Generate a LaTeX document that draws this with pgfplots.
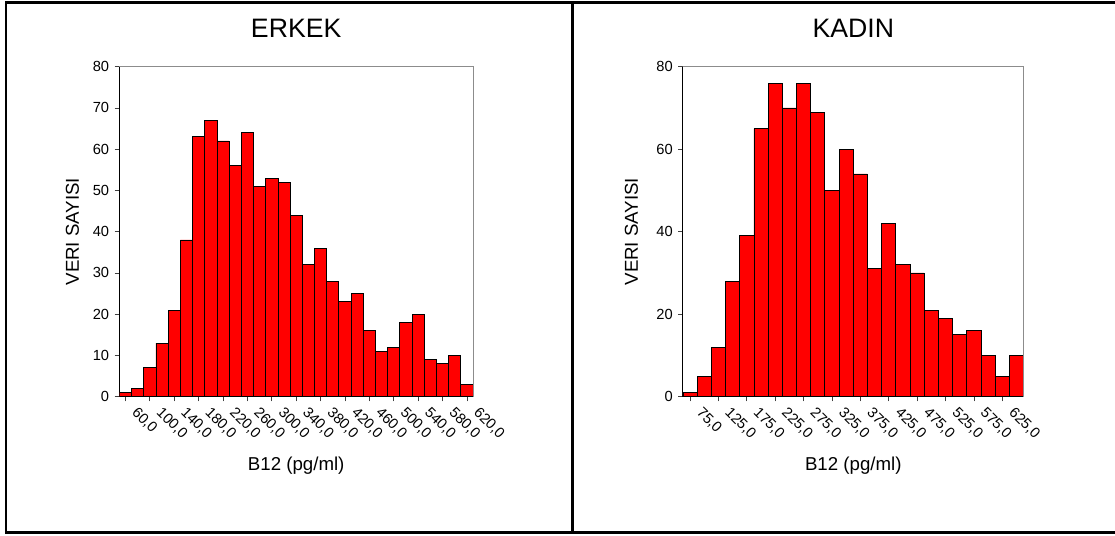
\documentclass[border=0pt]{standalone}
\usepackage{fontspec}
\setmainfont{Liberation Sans}
\usepackage{pgfplots}
\pgfplotsset{compat=1.18}
\definecolor{barred}{RGB}{255,0,0}
\definecolor{framegray}{RGB}{140,140,140}
\begin{document}
\begin{tikzpicture}[x=0.75pt,y=0.75pt]
\useasboundingbox (0,0) rectangle (1115,536);
\draw[line width=2pt] (1115,533.2) -- (6,533.2) -- (6,3.3) -- (1115,3.3);
\draw[line width=2pt] (572.8,533.2) -- (572.8,3.3);
\pgfplotsset{
  hist/.style={
    scale only axis,
    height=247.5pt,
    ymin=0, ymax=80,
    axis x line*=bottom, axis y line*=left,
    axis line style={black, line width=0.7pt, -},
    tick align=outside,
    major tick length=3.6pt,
    tick style={black!75, line width=0.6pt},
    /pgf/number format/assume math mode=true,
    ticklabel style={font=\fontsize{11}{13}\selectfont},
    yticklabel style={xshift=-0.5pt},
    xticklabel style={rotate=-45, anchor=west, xshift=6pt},
    label style={font=\fontsize{14}{17}\selectfont},
    title style={font=\fontsize{20}{24}\selectfont, at={(axis description cs:0.5,1)}, anchor=center, yshift=23.1pt},
    xlabel style={at={(axis description cs:0.5,0)}, anchor=center, yshift=-52pt},
    extra description/.code={\draw[framegray, line width=0.7pt] (rel axis cs:0,1) -- (rel axis cs:1,1) -- (rel axis cs:1,0);},
    xlabel={B12 (pg/ml)},
    ylabel={VERI SAYISI},
  }
}
\begin{axis}[hist,
  at={(89.5pt,104.5pt)}, anchor=south west,
  width=265.3pt,
  xmin=50, xmax=630,
  xtick={60,100,...,620},
  xticklabels={{60,0},{100,0},{140,0},{180,0},{220,0},{260,0},{300,0},{340,0},{380,0},{420,0},{460,0},{500,0},{540,0},{580,0},{620,0}},
  ytick={0,10,...,80},
  title={ERKEK},
  ylabel style={at={(axis description cs:0,0.5)}, anchor=center, yshift=35.1pt},
]
\addplot[ybar, bar width=20, bar shift=0pt, fill=barred, draw=black, line width=0.6pt] coordinates {
(60,1) (80,2) (100,7) (120,13) (140,21) (160,38) (180,63) (200,67) (220,62) (240,56)
(260,64) (280,51) (300,53) (320,52) (340,44) (360,32) (380,36) (400,28) (420,23) (440,25)
(460,16) (480,11) (500,12) (520,18) (540,20) (560,9) (580,8) (600,10) (620,3)
};
\end{axis}
\begin{axis}[hist,
  at={(512.2pt,104.5pt)}, anchor=south west,
  width=255.5pt,
  xmin=62.5, xmax=662.5,
  xtick={75,125,...,625},
  xticklabels={{75,0},{125,0},{175,0},{225,0},{275,0},{325,0},{375,0},{425,0},{475,0},{525,0},{575,0},{625,0}},
  ytick={0,20,...,80},
  title={KADIN},
  ylabel style={at={(axis description cs:0,0.5)}, anchor=center, yshift=38.7pt},
]
\addplot[ybar, bar width=25, bar shift=0pt, fill=barred, draw=black, line width=0.6pt] coordinates {
(75,1) (100,5) (125,12) (150,28) (175,39) (200,65) (225,76) (250,70) (275,76) (300,69)
(325,50) (350,60) (375,54) (400,31) (425,42) (450,32) (475,30) (500,21) (525,19) (550,15)
(575,16) (600,10) (625,5) (650,10)
};
\end{axis}
\end{tikzpicture}
\end{document}
